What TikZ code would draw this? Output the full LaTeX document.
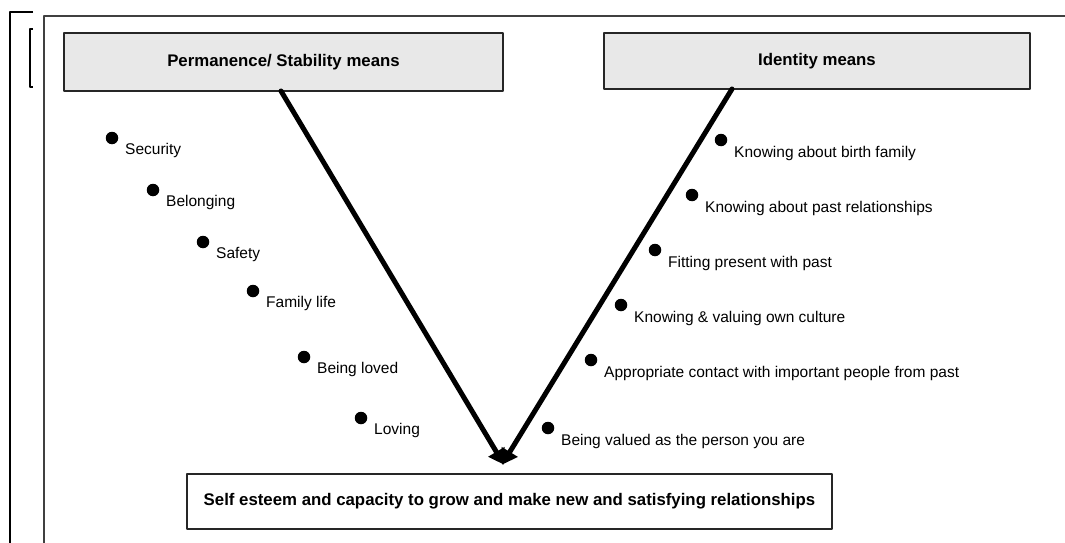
\documentclass[tikz,border=0pt]{standalone}
\usepackage{fontspec}
\setmainfont{Liberation Sans}
\usetikzlibrary{arrows.meta, positioning}

\tikzset{
  headbox/.style={draw=black!85, line width=2pt, fill=black!9, inner sep=0pt,
    font=\fontsize{16.8}{20}\selectfont\bfseries},
  itemdot/.style={circle, fill=black, inner sep=0pt, minimum size=12.5pt},
  itemtext/.style={anchor=base west, inner sep=0pt, font=\fontsize{15.5}{18}\selectfont},
  vline/.style={line width=5pt, -{Triangle[length=15pt, width=18pt]}}
}

\begin{document}
\begin{tikzpicture}[line cap=round,line join=round,x=1pt,y=-1pt]
\useasboundingbox (0,0) rectangle (1065,543);

% Page frame and brackets
\draw[line width=2.5pt, line cap=butt] (33,12) -- (10,12) -- (10,543);
\draw[line width=2pt, line cap=butt] (33,29) -- (30,29) -- (30,87) -- (33,87);
\draw[line width=1.8pt, black!75, line cap=butt] (44,543) -- (44,16) -- (1065,16);

% Heading boxes
\node[headbox, minimum width=439pt, minimum height=58pt] (perm) at (283.5,62)
  {Permanence/ Stability means};
\node[headbox, minimum width=426pt, minimum height=56pt] (ident) at (817,61)
  {Identity means};
\node[headbox, fill=white, minimum width=645pt, minimum height=55pt] (esteem) at (509.5,501.5)
  {Self esteem and capacity to grow and make new and satisfying relationships};

% Ends of the V
\coordinate (permfoot) at (281,91);
\coordinate (identfoot) at (732,89);
\coordinate (tip) at (503,463);

\draw[vline, shorten >=-2pt] (permfoot) -- (tip);
\draw[vline, shorten >=-2pt] (identfoot) -- (tip);

% Permanence items
\foreach \x/\y/\name/\txt in {
  112/138/sec/Security,
  153/190/bel/Belonging,
  203/242/saf/Safety,
  253/291/fam/Family life,
  304/357/bl/Being loved,
  361/418/lov/Loving
} {
  \node[itemdot] (\name) at (\x,\y) {};
  \node[itemtext] (\name-t) at (\x+13,\y+16.5) {\txt};
}

% Identity items
\foreach \x/\y/\name/\txt in {
  721/140/birth/Knowing about birth family,
  692/195/past/Knowing about past relationships,
  655/250/fit/Fitting present with past,
  621/305/cult/Knowing \& valuing own culture,
  591/360/cont/Appropriate contact with important people from past,
  548/428/val/Being valued as the person you are
} {
  \node[itemdot] (\name) at (\x,\y) {};
  \node[itemtext] (\name-t) at (\x+13,\y+17.5) {\txt};
}

\end{tikzpicture}
\end{document}
